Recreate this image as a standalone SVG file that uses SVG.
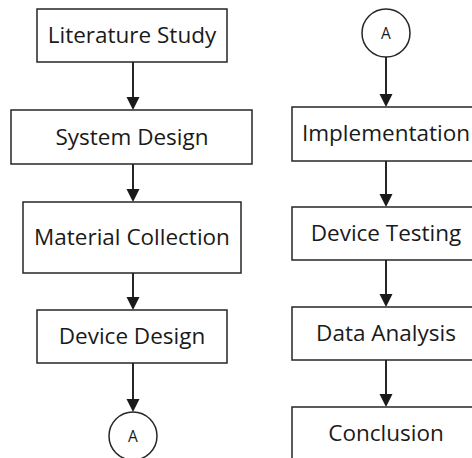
<svg xmlns="http://www.w3.org/2000/svg" width="472" height="458" viewBox="0 0 472 458">
<style>
.box{fill:#fff;stroke:#262626;stroke-width:1.5}
.lbl{font-family:"Open Sans","Noto Sans",sans-serif;font-size:22.5px;fill:#1a1a1a;text-anchor:middle}
.sm{font-family:"Open Sans","Noto Sans",sans-serif;font-size:15.5px;fill:#1a1a1a;text-anchor:middle}
.ln{stroke:#262626;stroke-width:2;fill:none}
.hd{fill:#1a1a1a}
</style>
<rect width="472" height="458" fill="#fff"/>
<g id="connectors">
<path class="ln" d="M133,62 V97"/><path class="hd" d="M126.5,97 L139.5,97 L133,110 Z"/>
<path class="ln" d="M133,164 V189"/><path class="hd" d="M126.5,189 L139.5,189 L133,202 Z"/>
<path class="ln" d="M133,273 V297"/><path class="hd" d="M126.5,297 L139.5,297 L133,310 Z"/>
<path class="ln" d="M133,363 V399"/><path class="hd" d="M126.5,399 L139.5,399 L133,412 Z"/>
<path class="ln" d="M386,57 V94"/><path class="hd" d="M379.5,94 L392.5,94 L386,107 Z"/>
<path class="ln" d="M386,161 V194"/><path class="hd" d="M379.5,194 L392.5,194 L386,207 Z"/>
<path class="ln" d="M386,260 V294"/><path class="hd" d="M379.5,294 L392.5,294 L386,307 Z"/>
<path class="ln" d="M386,360 V394"/><path class="hd" d="M379.5,394 L392.5,394 L386,407 Z"/>
</g>
<g id="literature-study"><rect class="box" x="37" y="9" width="190" height="53"/><text class="lbl" x="132" y="43">Literature Study</text></g>
<g id="system-design"><rect class="box" x="11" y="110" width="241" height="54"/><text class="lbl" x="132" y="145">System Design</text></g>
<g id="material-collection"><rect class="box" x="23" y="202" width="218" height="71"/><text class="lbl" x="132" y="245">Material Collection</text></g>
<g id="device-design"><rect class="box" x="37" y="310" width="190" height="53"/><text class="lbl" x="132" y="344">Device Design</text></g>
<g id="connector-a-bottom"><circle class="box" cx="133" cy="436" r="24"/><text class="sm" x="133" y="442">A</text></g>
<g id="connector-a-top"><circle class="box" cx="386" cy="33" r="24"/><text class="sm" x="386" y="39">A</text></g>
<g id="implementation"><rect class="box" x="292" y="107" width="190" height="54"/><text class="lbl" x="386" y="141">Implementation</text></g>
<g id="device-testing"><rect class="box" x="292" y="207" width="190" height="53"/><text class="lbl" x="386" y="241">Device Testing</text></g>
<g id="data-analysis"><rect class="box" x="292" y="307" width="190" height="53"/><text class="lbl" x="386" y="341">Data Analysis</text></g>
<g id="conclusion"><rect class="box" x="292" y="407" width="190" height="60"/><text class="lbl" x="386" y="441">Conclusion</text></g>
</svg>
